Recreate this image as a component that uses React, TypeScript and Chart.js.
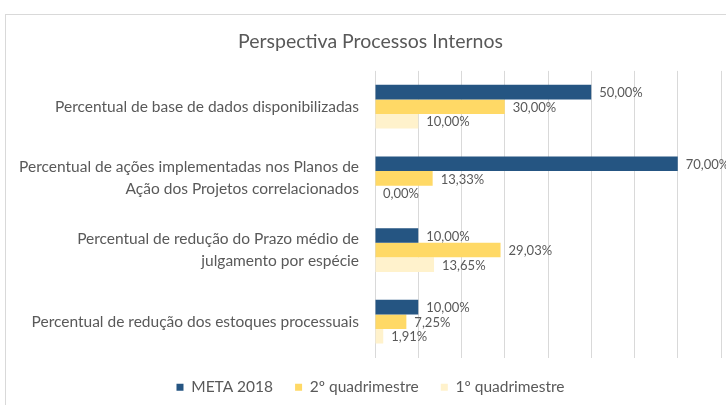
import React, { useEffect, useRef } from "react";
import { Chart, registerables } from "chart.js";

Chart.register(...registerables);

const categories: (string | string[])[] = [
  "Percentual de base de dados disponibilizadas",
  ["Percentual de ações implementadas nos Planos de", "Ação dos Projetos correlacionados"],
  ["Percentual de redução do Prazo médio de", "julgamento por espécie"],
  "Percentual de redução dos estoques processuais",
];
const seriesNames = ["META 2018", "2º quadrimestre", "1º quadrimestre"];
const meta2018 = [50, 70, 10, 10];
const quad2 = [30, 13.33, 29.03, 7.25];
const quad1 = [10, 0, 13.65, 1.91];
const xTicks = [0, 10, 20, 30, 40, 50, 60, 70, 80];

const FONT = "Lato, 'Open Sans', sans-serif";
const GREY = "#595959";

const frame = {
  id: "frame",
  beforeDraw(chart: any) {
    const ctx = chart.ctx;
    ctx.save();
    ctx.strokeStyle = "#d9d9d9";
    ctx.lineWidth = 1;
    ctx.strokeRect(5.5, 14.5, 760, 440);
    ctx.restore();
  },
};

const valueLabels = {
  id: "valueLabels",
  afterDatasetsDraw(chart: any) {
    const ctx = chart.ctx;
    ctx.save();
    ctx.font = `13px ${FONT}`;
    ctx.fillStyle = GREY;
    ctx.textAlign = "left";
    ctx.textBaseline = "middle";
    chart.data.datasets.forEach((ds: any, di: number) => {
      const m = chart.getDatasetMeta(di);
      m.data.forEach((bar: any, i: number) => {
        const v = ds.data[i] as number;
        const txt = v.toFixed(2).replace(".", ",") + "%";
        ctx.fillText(txt, bar.x + 8, bar.y + 1);
      });
    });
    ctx.restore();
  },
};

export default function App() {
  const ref = useRef<HTMLCanvasElement>(null);
  useEffect(() => {
    if (!ref.current) return;
    const chart = new Chart(ref.current, {
      type: "bar",
      data: {
        labels: categories,
        datasets: [
          { label: seriesNames[0], data: meta2018, backgroundColor: "#255582" },
          { label: seriesNames[1], data: quad2, backgroundColor: "#FFD966" },
          { label: seriesNames[2], data: quad1, backgroundColor: "#FFF2CC" },
        ],
      },
      options: {
        indexAxis: "y",
        responsive: false,
        animation: false,
        datasets: { bar: { categoryPercentage: 0.61, barPercentage: 1 } },
        layout: { padding: { left: 20, right: 5, top: 0, bottom: 0 } },
        scales: {
          x: {
            min: xTicks[0],
            max: xTicks[xTicks.length - 1],
            afterBuildTicks: (s: any) => {
              s.ticks = xTicks.map((v) => ({ value: v }));
            },
            ticks: { display: false },
            grid: { color: "#d9d9d9", drawTicks: false },
            border: { display: false },
          },
          y: {
            afterFit: (s: any) => {
              s.width = 355;
            },
            grid: { display: false, drawTicks: false },
            border: { display: false },
            ticks: {
              padding: 16,
              color: GREY,
              font: { family: FONT, size: 15.5, lineHeight: 1.42 },
            },
          },
        },
        plugins: {
          tooltip: { enabled: false },
          title: {
            display: true,
            text: "Perspectiva Processos Internos",
            color: GREY,
            font: { family: FONT, size: 19.5, weight: "normal" },
            padding: { top: 30, bottom: 17.5 },
          },
          legend: {
            position: "bottom",
            labels: {
              boxWidth: 7,
              boxHeight: 7,
              padding: 22,
              color: GREY,
              font: { family: FONT, size: 15.5 },
            },
          },
        },
      },
      plugins: [frame, valueLabels],
    });
    return () => chart.destroy();
  }, []);
  return (
    <div style={{ position: "absolute", left: 0, top: 0, width: 726, height: 405, background: "#fff" }}>
      <canvas ref={ref} width={726} height={405} />
    </div>
  );
}
